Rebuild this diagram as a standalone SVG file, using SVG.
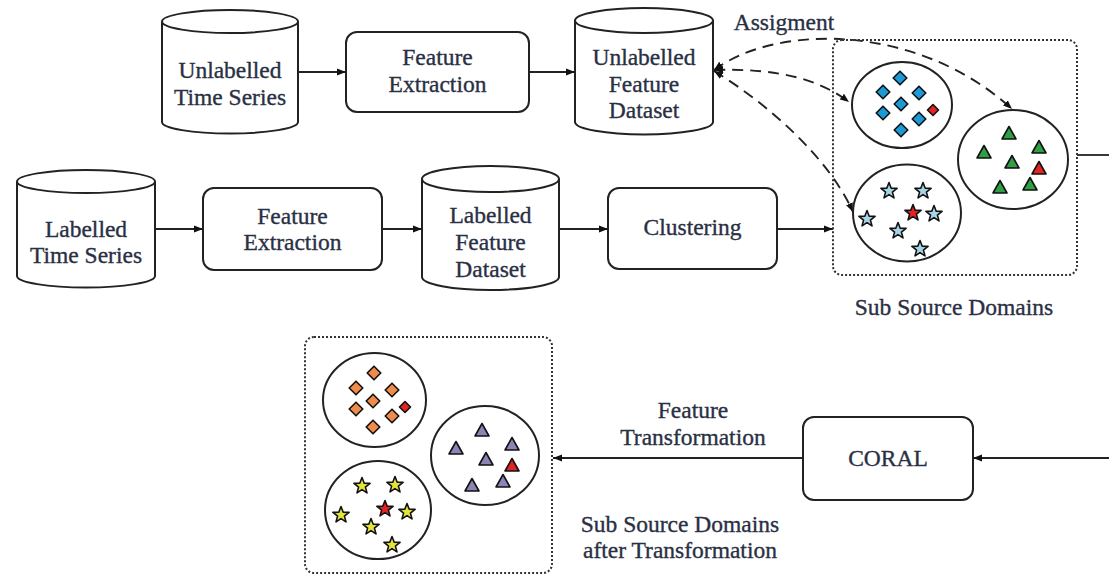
<svg xmlns="http://www.w3.org/2000/svg" xmlns:xlink="http://www.w3.org/1999/xlink" width="1109" height="576" viewBox="0 0 1109 576">
<style>
.shape{fill:#fff;stroke:#222;stroke-width:2}
.lbl{font-family:"Liberation Serif","Times New Roman",serif;font-size:23.5px;fill:#2a3044;stroke:#2a3044;stroke-width:0.35;text-anchor:middle}
.conn{fill:none;stroke:#222;stroke-width:1.8}
.dash{fill:none;stroke:#222;stroke-width:1.9;stroke-dasharray:11 7}
.dot{fill:none;stroke:#333;stroke-width:2;stroke-dasharray:2 2}
.clu{fill:#fff;stroke:#222;stroke-width:2}
.mk{stroke:#111;stroke-width:1.6;stroke-linejoin:round}
.blue{fill:#1d9ad6}.orange{fill:#ef8c4c}.green{fill:#2f9e44}.purple{fill:#8b84b6}.lblue{fill:#a8d5e6}.yellow{fill:#e4e43a}.red{fill:#e32424}
</style>
<defs>
<marker id="ah" viewBox="0 0 10 10" refX="10" refY="5" markerWidth="9" markerHeight="9" markerUnits="userSpaceOnUse" orient="auto-start-reverse">
<path d="M0,1 L10,5 L0,9 Z" fill="#111"/>
</marker>
<polygon id="dia" points="0,-6.8 6.8,0 0,6.8 -6.8,0"/>
<polygon id="diaS" points="0,-5.5 5.5,0 0,5.5 -5.5,0"/>
<polygon id="tri" points="0,-7.5 7,5 -7,5"/>
<polygon id="star" points="0,-8.5 2.12,-2.91 8.08,-2.63 3.42,1.11 5,6.88 0,3.6 -5,6.88 -3.42,1.11 -8.08,-2.63 -2.12,-2.91"/>
</defs>

<g id="connectors">
<line class="conn" x1="298" y1="72" x2="346" y2="72" marker-end="url(#ah)"/>
<line class="conn" x1="529" y1="72" x2="575" y2="72" marker-end="url(#ah)"/>
<line class="conn" x1="155" y1="229" x2="203" y2="229" marker-end="url(#ah)"/>
<line class="conn" x1="382" y1="229" x2="422" y2="229" marker-end="url(#ah)"/>
<line class="conn" x1="559" y1="229" x2="608" y2="229" marker-end="url(#ah)"/>
<line class="conn" x1="777" y1="229" x2="833" y2="229" marker-end="url(#ah)"/>
<line class="conn" x1="1077" y1="155" x2="1109" y2="155"/>
<line class="conn" x1="1109" y1="458" x2="973" y2="458" marker-end="url(#ah)"/>
<line class="conn" x1="803" y1="458" x2="553" y2="458" marker-end="url(#ah)"/>
<path class="dash" d="M714,70 C780,22 920,25 1012,109" marker-start="url(#ah)" marker-end="url(#ah)"/>
<path class="dash" d="M714,70 C780,68 820,80 849,102" marker-start="url(#ah)" marker-end="url(#ah)"/>
<path class="dash" d="M714,71 C770,105 830,160 853,212" marker-start="url(#ah)" marker-end="url(#ah)"/>
</g>

<g id="unlabelled-time-series">
<path class="shape" d="M162,21.5 L162,122 A68,11.5 0 0 0 298,122 L298,21.5"/>
<ellipse class="shape" cx="230" cy="21.5" rx="68" ry="11.5"/>
<text class="lbl" x="230" y="78">Unlabelled</text>
<text class="lbl" x="230" y="105">Time Series</text>
</g>

<g id="feature-extraction-1">
<rect class="shape" x="346" y="32" width="183" height="80" rx="11"/>
<text class="lbl" x="437.5" y="65">Feature</text>
<text class="lbl" x="437.5" y="92">Extraction</text>
</g>

<g id="unlabelled-feature-dataset">
<path class="shape" d="M575,20.5 L575,122 A69,12.5 0 0 0 713,122 L713,20.5"/>
<ellipse class="shape" cx="644" cy="20.5" rx="69" ry="12.5"/>
<text class="lbl" x="644" y="65">Unlabelled</text>
<text class="lbl" x="644" y="92">Feature</text>
<text class="lbl" x="644" y="118">Dataset</text>
</g>

<g id="assignment-label">
<text class="lbl" x="784" y="30">Assigment</text>
</g>

<g id="labelled-time-series">
<path class="shape" d="M17,181.5 L17,276 A69,11.5 0 0 0 155,276 L155,181.5"/>
<ellipse class="shape" cx="86" cy="181.5" rx="69" ry="11.5"/>
<text class="lbl" x="86" y="237">Labelled</text>
<text class="lbl" x="86" y="263">Time Series</text>
</g>

<g id="feature-extraction-2">
<rect class="shape" x="203" y="188" width="179" height="82" rx="11"/>
<text class="lbl" x="292.5" y="224">Feature</text>
<text class="lbl" x="292.5" y="250">Extraction</text>
</g>

<g id="labelled-feature-dataset">
<path class="shape" d="M422,179 L422,277 A68.5,13 0 0 0 559,277 L559,179"/>
<ellipse class="shape" cx="490.5" cy="179" rx="68.5" ry="13"/>
<text class="lbl" x="490.5" y="223">Labelled</text>
<text class="lbl" x="490.5" y="250">Feature</text>
<text class="lbl" x="490.5" y="277">Dataset</text>
</g>

<g id="clustering">
<rect class="shape" x="608" y="188" width="169" height="81" rx="11"/>
<text class="lbl" x="692.5" y="235">Clustering</text>
</g>

<g id="sub-source-domains">
<rect class="dot" x="833" y="40" width="244" height="235" rx="9"/>
<ellipse class="clu" cx="902" cy="105" rx="50" ry="43"/>
<g class="mk">
<use href="#dia" class="blue" x="900" y="78"/>
<use href="#dia" class="blue" x="883" y="92"/>
<use href="#dia" class="blue" x="919" y="93"/>
<use href="#dia" class="blue" x="901" y="104"/>
<use href="#dia" class="blue" x="883" y="113"/>
<use href="#dia" class="blue" x="919" y="119"/>
<use href="#diaS" class="red" x="933" y="110"/>
<use href="#dia" class="blue" x="901" y="130"/>
</g>
<ellipse class="clu" cx="1013" cy="159.5" rx="55" ry="49.5"/>
<g class="mk">
<use href="#tri" class="green" x="1009" y="134"/>
<use href="#tri" class="green" x="984" y="153"/>
<use href="#tri" class="green" x="1039" y="148"/>
<use href="#tri" class="green" x="1012" y="163"/>
<use href="#tri" class="red" x="1039" y="169"/>
<use href="#tri" class="green" x="1000" y="188"/>
<use href="#tri" class="green" x="1030" y="185"/>
</g>
<ellipse class="clu" cx="907" cy="213" rx="54" ry="48.5"/>
<g class="mk">
<use href="#star" class="lblue" x="889" y="191"/>
<use href="#star" class="lblue" x="923" y="191"/>
<use href="#star" class="red" x="913" y="213"/>
<use href="#star" class="lblue" x="934" y="214"/>
<use href="#star" class="lblue" x="867" y="219"/>
<use href="#star" class="lblue" x="898" y="231"/>
<use href="#star" class="lblue" x="920" y="249"/>
</g>
<text class="lbl" x="954" y="315">Sub Source Domains</text>
</g>

<g id="coral">
<rect class="shape" x="803" y="417" width="170" height="83" rx="11"/>
<text class="lbl" x="888" y="466">CORAL</text>
</g>

<g id="feature-transformation-label">
<text class="lbl" x="693" y="418">Feature</text>
<text class="lbl" x="693" y="445">Transformation</text>
</g>

<g id="transformed-domains">
<rect class="dot" x="305" y="337" width="247" height="236" rx="9"/>
<ellipse class="clu" cx="374.5" cy="400" rx="51.5" ry="47"/>
<g class="mk">
<use href="#dia" class="orange" x="374" y="373"/>
<use href="#dia" class="orange" x="356" y="388"/>
<use href="#dia" class="orange" x="392" y="390"/>
<use href="#dia" class="orange" x="373" y="401"/>
<use href="#dia" class="orange" x="356" y="409"/>
<use href="#dia" class="orange" x="392" y="416"/>
<use href="#diaS" class="red" x="405" y="407"/>
<use href="#dia" class="orange" x="373" y="427"/>
</g>
<ellipse class="clu" cx="485" cy="455.5" rx="54" ry="49.5"/>
<g class="mk">
<use href="#tri" class="purple" x="482" y="431"/>
<use href="#tri" class="purple" x="456" y="449"/>
<use href="#tri" class="purple" x="512" y="445"/>
<use href="#tri" class="purple" x="486" y="460"/>
<use href="#tri" class="red" x="512" y="466"/>
<use href="#tri" class="purple" x="472" y="486"/>
<use href="#tri" class="purple" x="503" y="482"/>
</g>
<ellipse class="clu" cx="378" cy="510" rx="53" ry="49"/>
<g class="mk">
<use href="#star" class="yellow" x="362" y="486"/>
<use href="#star" class="yellow" x="395" y="485"/>
<use href="#star" class="red" x="385" y="509"/>
<use href="#star" class="yellow" x="407" y="512"/>
<use href="#star" class="yellow" x="341" y="515"/>
<use href="#star" class="yellow" x="371" y="527"/>
<use href="#star" class="yellow" x="392" y="545"/>
</g>
</g>

<g id="transformed-label">
<text class="lbl" x="680" y="532">Sub Source Domains</text>
<text class="lbl" x="680" y="558">after Transformation</text>
</g>
</svg>
